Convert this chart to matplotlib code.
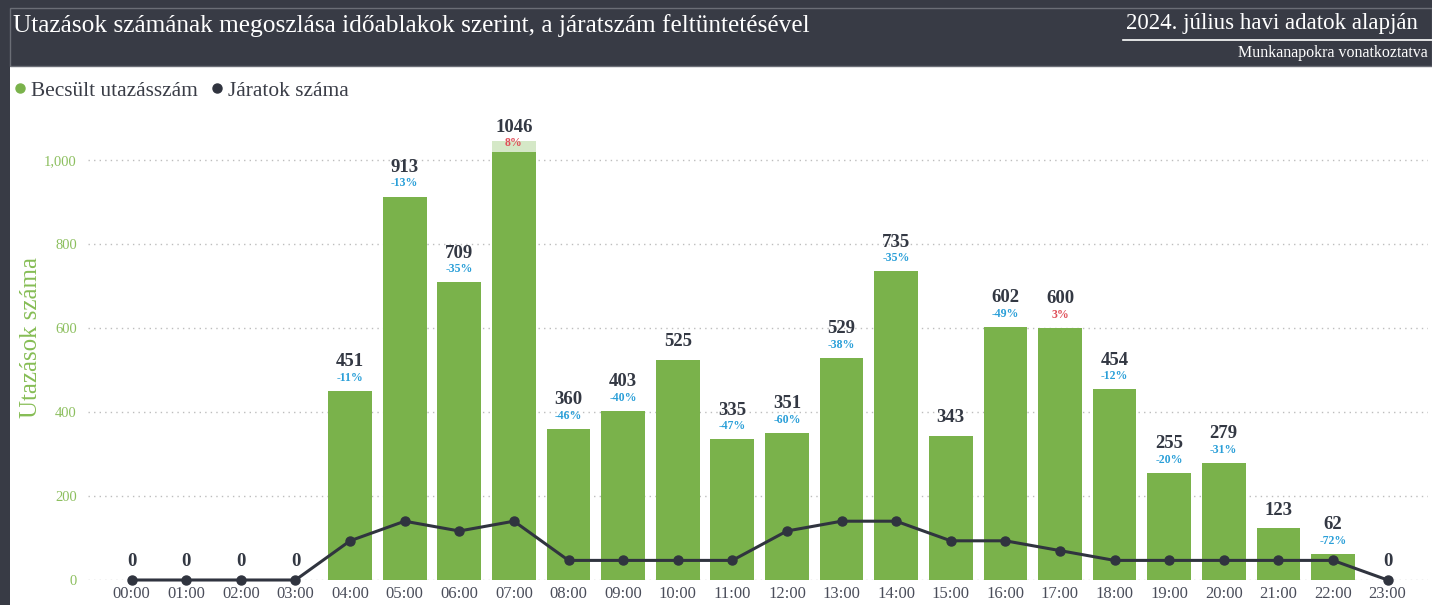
import matplotlib
matplotlib.use('Agg')
import matplotlib.pyplot as plt
from matplotlib.patches import Rectangle
from matplotlib.lines import Line2D

# data
hours = ['%02d:00' % h for h in range(24)]
trips = [0, 0, 0, 0, 451, 913, 709, 1046, 360, 403, 525, 335,
         351, 529, 735, 343, 602, 600, 454, 255, 279, 123, 62, 0]
changes = [None, None, None, None, -11, -13, -35, 8, -46, -40, None, -47,
           -60, -38, -35, None, -49, 3, -12, -20, -31, None, -72, None]
departures = [0, 0, 0, 0, 4, 6, 5, 6, 2, 2, 2, 2,
              5, 6, 6, 4, 4, 3, 2, 2, 2, 2, 2, 0]

title = 'Utazások számának megoszlása időablakok szerint, a járatszám feltüntetésével'
subtitle = '2024. július havi adatok alapján'
note = 'Munkanapokra vonatkoztatva'

DARK = '#383b45'
GREEN = '#7ab24b'
LIGHTGREEN = '#d5e8c7'
LINE = '#30343f'
TEXT = '#333843'
YMAX = 1020

plt.rcParams['font.family'] = ['Liberation Serif', 'DejaVu Serif']

W, H = 1432, 605
fig = plt.figure(figsize=(W / 100, H / 100), dpi=100, facecolor=DARK)

def fx(px):
    return px / W

def fy(py):
    return 1 - py / H

# white body + header bar
fig.add_artist(Rectangle((fx(10), 0), 1 - fx(10), fy(66), transform=fig.transFigure,
                         facecolor='white', edgecolor='none', zorder=0))
fig.add_artist(Rectangle((fx(10), fy(66)), 1 - fx(10), fy(8) - fy(66), transform=fig.transFigure,
                         facecolor=DARK, edgecolor='#6b6e76', lw=1, zorder=0))
fig.text(fx(13), fy(26), title, color='white', fontsize=18.3, va='center', ha='left')
fig.text(fx(1418), fy(23), subtitle, color='white', fontsize=16.5, va='center', ha='right')
fig.add_artist(Line2D([fx(1123), 1], [fy(40), fy(40)], transform=fig.transFigure,
                      color='white', lw=1.2))
fig.text(fx(1428), fy(53), note, color='white', fontsize=11.5, va='center', ha='right')

ax = fig.add_axes([fx(88), fy(580), fx(1428) - fx(88), fy(151.6) - fy(580)])
ax.set_facecolor('none')
x = list(range(len(hours)))

shown = [min(v, YMAX) for v in trips]
ax.bar(x, shown, width=0.8, color=GREEN, zorder=2)
over = [max(v - YMAX, 0) for v in trips]
ax.bar(x, over, bottom=YMAX, width=0.8, color=LIGHTGREEN, zorder=2, clip_on=False)

ax.set_xlim(-0.8, 23.74)
ax.set_ylim(0, YMAX)
ax.set_yticks(range(0, 1001, 200))
ax.set_yticklabels(['{:,}'.format(t) for t in range(0, 1001, 200)])
ax.grid(axis='y', linestyle=(0, (1, 3)), color='#bdbdbd', lw=1, zorder=0)
for s in ax.spines.values():
    s.set_visible(False)
ax.tick_params(axis='y', length=0, labelcolor='#8cbf5e', labelsize=10.5, pad=8)
ax.set_xticks(x)
ax.set_xticklabels(hours)
ax.tick_params(axis='x', length=0, labelcolor='#4a4d5a', labelsize=12, pad=4)
ax.set_ylabel('Utazások száma', color='#86bd55', fontsize=18, va='center')
axw = fx(1428) - fx(88)
ax.yaxis.set_label_coords((fx(31) - fx(88)) / axw, (fy(338) - fy(580)) / (fy(151.6) - fy(580)))

for i, v in enumerate(trips):
    top = min(v, YMAX)
    if changes[i] is None:
        ax.annotate(str(v), (i, top), xytext=(0, 13), textcoords='offset points',
                    ha='center', va='center', fontsize=13.5, fontweight='bold', color=TEXT, zorder=5)
    else:
        off = 21 if v <= YMAX else 17
        poff = 9.4 if v <= YMAX else 6.5
        ax.annotate(str(v), (i, top), xytext=(0, off), textcoords='offset points',
                    ha='center', va='center', fontsize=13.5, fontweight='bold', color=TEXT, zorder=5)
        c = '#e0505a' if changes[i] > 0 else '#2a9fd8'
        ax.annotate('%d%%' % changes[i], (i, top), xytext=(0, poff), textcoords='offset points',
                    ha='center', va='center', fontsize=8.5, fontweight='bold', color=c, zorder=5)

ax2 = ax.twinx()
ax2.plot(x, departures, color=LINE, lw=2.2, marker='o', markersize=6.5, zorder=4, clip_on=False)
ax2.set_ylim(0, 428.4 / 9.8)
ax2.axis('off')

handles = [Line2D([], [], marker='o', color=GREEN, ls='none', markersize=6.5),
           Line2D([], [], marker='o', color=LINE, ls='none', markersize=6.5)]
fig.legend(handles, ['Becsült utazásszám', 'Járatok száma'], loc='center left',
           bbox_to_anchor=(fx(16), fy(91)), frameon=False, fontsize=15.4, ncol=2,
           handlelength=0.4, handletextpad=0.3, columnspacing=0.7, labelcolor='#3a3d47',
           borderaxespad=0, borderpad=0)

fig.savefig('out.png', dpi=100, facecolor=DARK)
